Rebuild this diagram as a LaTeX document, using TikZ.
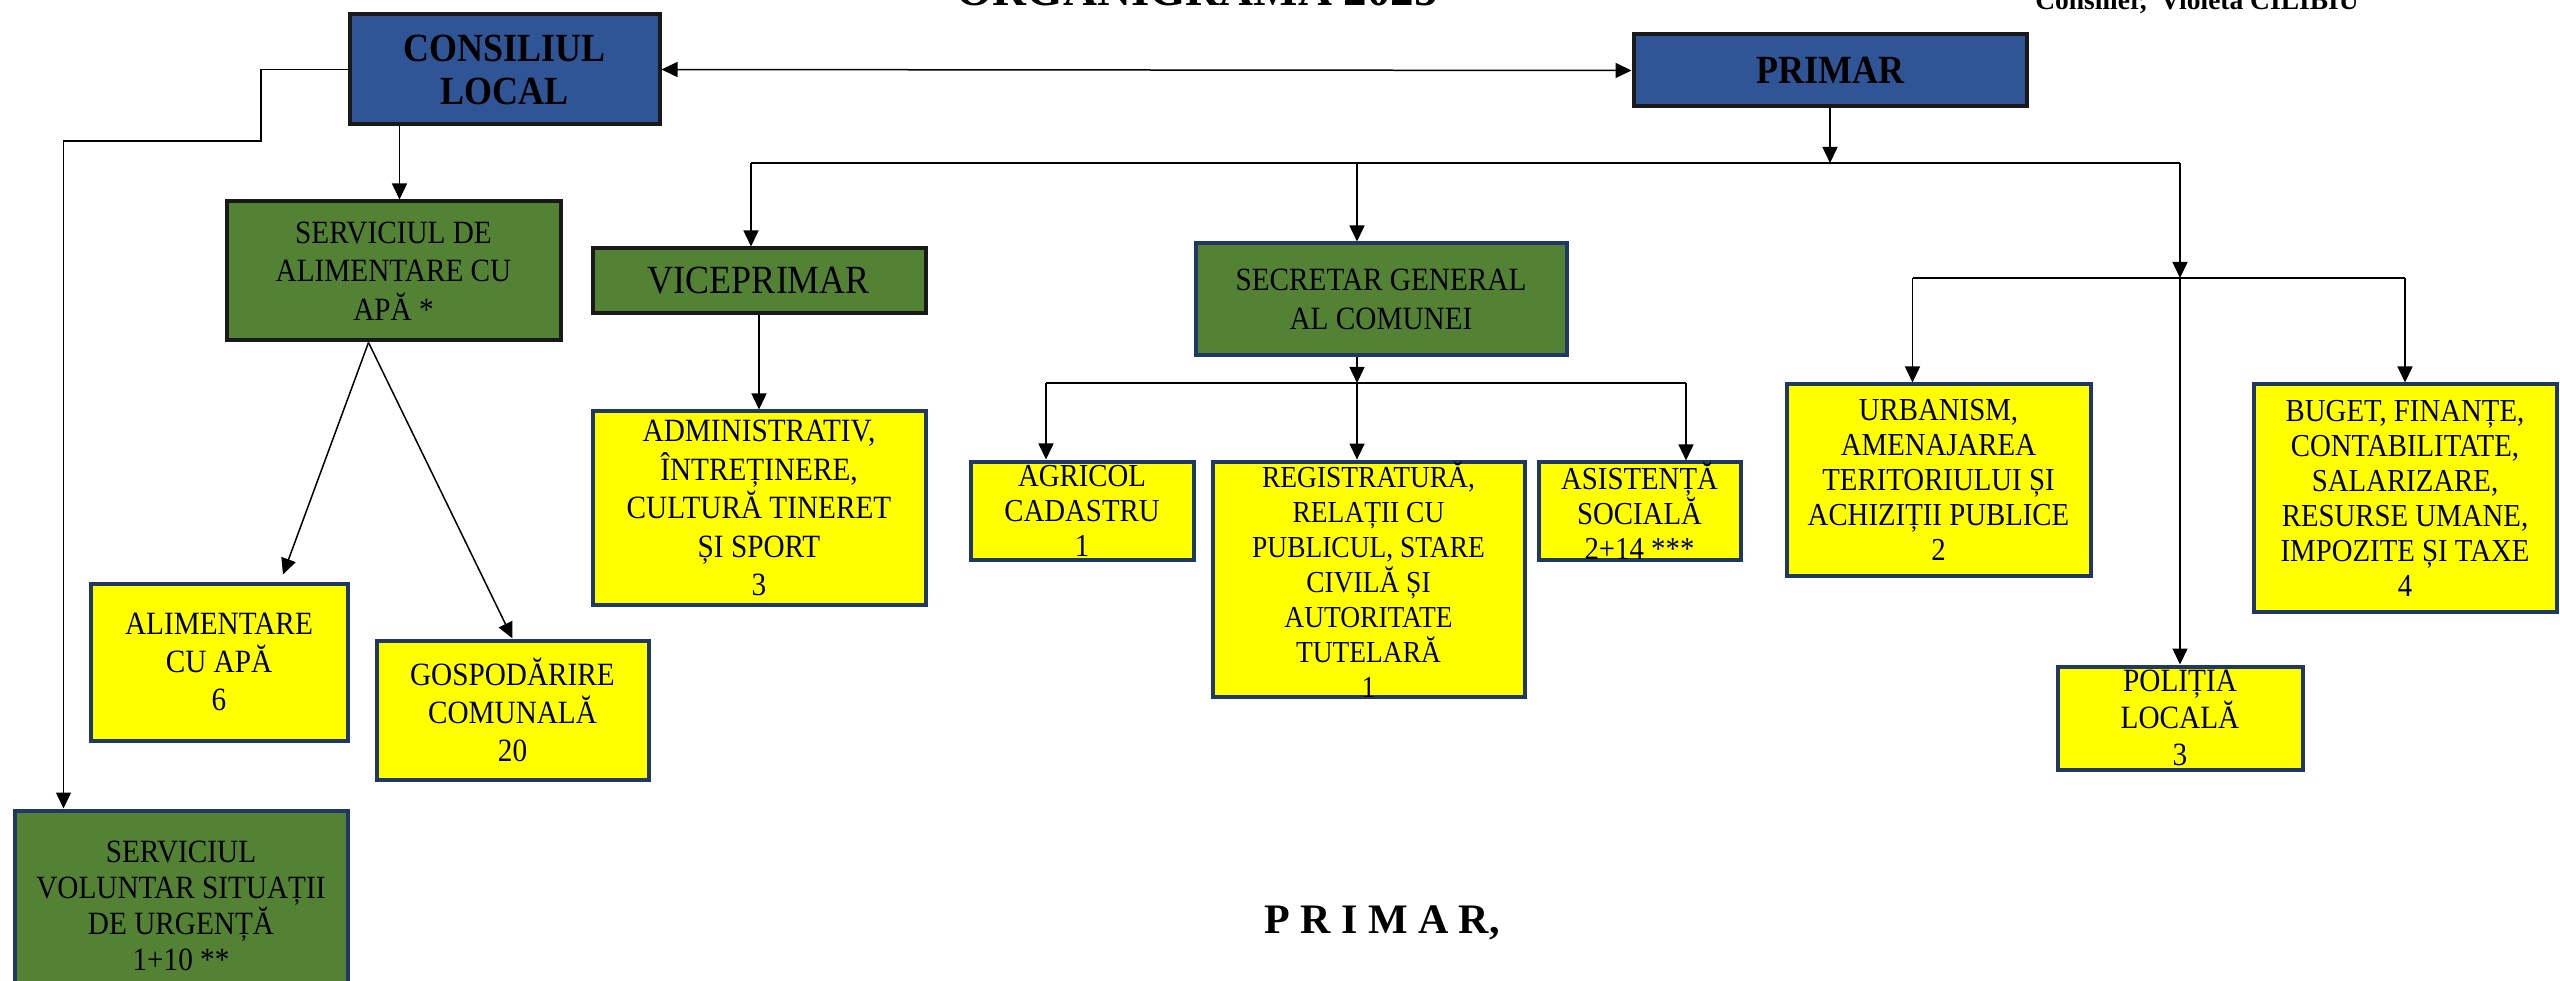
\documentclass[tikz,border=0pt]{standalone}
\usepackage{fontspec}
\setmainfont{Liberation Serif}[FakeStretch=0.9]
\newfontfamily\plainserif{Liberation Serif}
\usepackage{tikz}
\usetikzlibrary{calc,arrows.meta}
\definecolor{cblue}{HTML}{2F5597}
\definecolor{cgreen}{HTML}{548235}
\definecolor{cnavy}{HTML}{1F3864}
\definecolor{cyellow}{HTML}{FFFF00}
\tikzset{
	conn/.style={line width=1.5pt, draw=black},
	arr/.style={conn, -{Triangle[length=16pt,width=15pt]}},
	arrboth/.style={conn, {Triangle[length=16pt,width=15pt]}-{Triangle[length=16pt,width=15pt]}},
	orgbox/.style={line width=4pt, inner sep=0pt, align=center},
	bluebox/.style={orgbox, draw=black!90, fill=cblue, font=\fontsize{40}{43}\selectfont\bfseries},
	greenbox/.style={orgbox, draw=black!90, fill=cgreen, font=\fontsize{32.5}{38.4}\selectfont},
	navybox/.style={orgbox, draw=cnavy, fill=cgreen, font=\fontsize{32.5}{38.4}\selectfont},
	yellowbox/.style={orgbox, draw=cnavy, fill=cyellow, font=\fontsize{32.5}{38.4}\selectfont},
	tightbox/.style={yellowbox, font=\fontsize{32}{35}\selectfont},
}

\begin{document}
\begin{tikzpicture}[x=1pt,y=-1pt]
		%%%%% START %%%%%
		\useasboundingbox (0,0) rectangle (2560,981);
		
		\node[font=\plainserif\fontsize{47}{50}\selectfont\bfseries, anchor=base] (titlu) at (1197,6) {ORGANIGRAMA 2025};
		\node[font=\plainserif\fontsize{27.5}{30}\selectfont\bfseries, anchor=base] (consilier) at (2197,10) {Consilier,\ \ Violeta CILIBIU};
		
		\node[bluebox, minimum width=310pt, minimum height=110pt] (consiliu) at (504.5,69.5) {CONSILIUL\\LOCAL};
		\node[bluebox, minimum width=393pt, minimum height=72pt] (primar) at (1830,70.5) {PRIMAR};
		
		\node[greenbox, minimum width=334pt, minimum height=139pt] (sal) at (393.5,271) {SERVICIUL DE\\ALIMENTARE CU\\APĂ *};
		\node[greenbox, minimum width=333pt, minimum height=65pt, font=\fontsize{40}{42}\selectfont] (vice) at (759,281) {VICEPRIMAR};
		\node[navybox, minimum width=371pt, minimum height=112pt] (sec) at (1381,299.5) {SECRETAR GENERAL\\AL COMUNEI};
		\node[navybox, minimum width=333pt, minimum height=191pt, font=\fontsize{32.5}{36}\selectfont] (svsu) at (181,906) {SERVICIUL\\VOLUNTAR SITUAȚII\\DE URGENȚĂ\\1+10 **};
		
		\node[yellowbox, minimum width=257pt, minimum height=157pt] (apa) at (219,662) {ALIMENTARE\\CU APĂ\\6};
		\node[yellowbox, minimum width=272pt, minimum height=139pt] (gosp) at (512.5,710) {GOSPODĂRIRE\\COMUNALĂ\\20};
		\node[yellowbox, minimum width=333pt, minimum height=193pt] (adm) at (759,508) {ADMINISTRATIV,\\ÎNTREȚINERE,\\CULTURĂ TINERET\\ȘI SPORT\\3};
		\node[tightbox, minimum width=223pt, minimum height=98pt] (agr) at (1082,510.5) {AGRICOL\\CADASTRU\\1};
		\node[tightbox, minimum width=312pt, minimum height=234pt, font=\fontsize{30.5}{35}\selectfont] (reg) at (1368.5,579.5) {REGISTRATURĂ,\\RELAȚII CU\\PUBLICUL, STARE\\CIVILĂ ȘI\\AUTORITATE\\TUTELARĂ\\1};
		\node[tightbox, minimum width=202pt, minimum height=97pt] (asis) at (1639.5,511) {ASISTENȚĂ\\SOCIALĂ\\2+14 ***};
		\node[tightbox, minimum width=304pt, minimum height=191pt] (urb) at (1938.5,480) {URBANISM,\\AMENAJAREA\\TERITORIULUI ȘI\\ACHIZIȚII PUBLICE\\2};
		\node[tightbox, minimum width=303pt, minimum height=227pt] (buget) at (2405,498) {BUGET, FINANȚE,\\CONTABILITATE,\\SALARIZARE,\\RESURSE UMANE,\\IMPOZITE ȘI TAXE\\4};
		\node[yellowbox, minimum width=245pt, minimum height=103pt, font=\fontsize{32.5}{37}\selectfont] (pol) at (2180,718) {POLIȚIA\\LOCALĂ\\3};
		
		\node[font=\plainserif\fontsize{42}{45}\selectfont\bfseries, anchor=base] (semn) at (1382,933) {P R I M A R,};
		
		% consiliul local
		\draw[arrboth] (consiliu.east) -- (primar.west);
		\coordinate (cbend) at (261,141);
		\draw[arr] (consiliu.west) -| (cbend) -| ($(svsu.north west)+(51,0)$);
		\coordinate (saltop) at ($(sal.north)+(6,0)$);
		\draw[arr] (consiliu.south -| saltop) -- (saltop);
		\coordinate (salout) at ($(sal.south)+(-25,0)$);
		\draw[arr] (salout) -- ($(apa.north)+(64,-7)$);
		\draw[arr] (salout) -- (gosp.north);
		
		% primar
		\coordinate (pbus) at (1830,163);
		\coordinate (sbus) at (2180,278);
		\coordinate (vicetop) at ($(vice.north)+(-8,0)$);
		\coordinate (secx) at ($(sec.north)+(-24,0)$);
		\draw[arr] (primar.south) -- (pbus);
		\draw[conn] (vicetop |- pbus) -- (sbus |- pbus);
		\draw[arr] (vicetop |- pbus) -- (vicetop);
		\draw[arr] (secx |- pbus) -- (secx);
		\draw[arr] (sbus |- pbus) -- (sbus);
		\draw[arr] (sbus) -- (pol.north);
		\draw[arr] (vice.south) -- (adm.north);
		
		\coordinate (urbtop) at ($(urb.north)+(-26,0)$);
		\draw[conn] (urbtop |- sbus) -- (buget.north |- sbus);
		\draw[arr] (urbtop |- sbus) -- (urbtop);
		\draw[arr] (buget.north |- sbus) -- (buget.north);
		
		% secretar general
		\coordinate (secbus) at (1357,383);
		\coordinate (agrtop) at ($(agr.north)+(-36,0)$);
		\coordinate (regtop) at ($(reg.north)+(-11.5,0)$);
		\coordinate (asistop) at ($(asis.north)+(46.5,0)$);
		\draw[arr] (secx |- sec.south) -- (secbus);
		\draw[conn] (agrtop |- secbus) -- (asistop |- secbus);
		\draw[arr] (agrtop |- secbus) -- (agrtop);
		\draw[arr] (secbus) -- (regtop);
		\draw[arr] (asistop |- secbus) -- (asistop);
		%%%%% END %%%%%
\end{tikzpicture}
\end{document}
